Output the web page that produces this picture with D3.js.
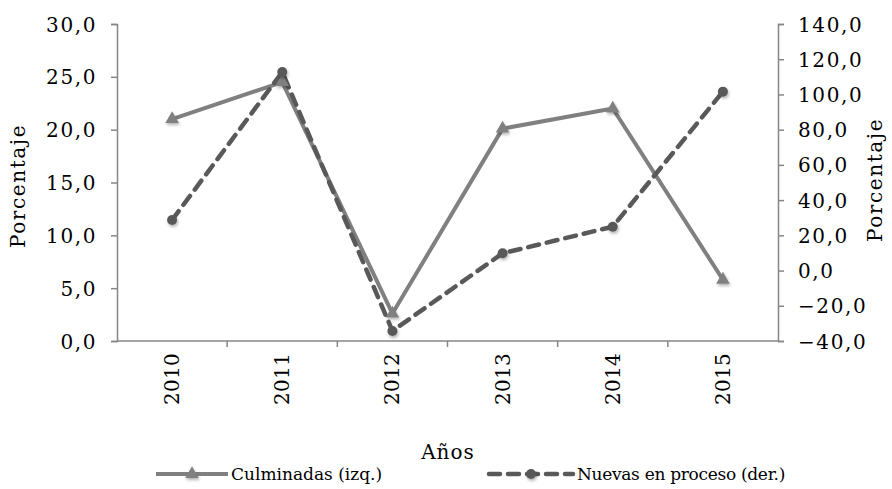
<!DOCTYPE html>
<html><head><meta charset="utf-8">
<script src="https://cdn.jsdelivr.net/npm/d3@7"></script>
<style>
body{margin:0;background:#fff;}
text{font-family:"DejaVu Serif",serif;fill:#000;}
</style></head>
<body>
<svg id="c" width="892" height="489"></svg>
<script>
const years = ["2010","2011","2012","2013","2014","2015"];
const culminadas = [21.0, 24.5, 2.6, 20.1, 22.0, 5.8];
const nuevas = [28.7, 112.7, -34.3, 9.8, 24.9, 101.6];
const leftTicks = [0,5,10,15,20,25,30];
const rightTicks = [-40,-20,0,20,40,60,80,100,120,140];
const seriesNames = ["Culminadas (izq.)", "Nuevas en proceso (der.)"];

const svg = d3.select("#c");
const m = {l:117, r:778, t:24, b:341};
const x = d3.scaleBand().domain(years).range([m.l, m.r]);
const yL = d3.scaleLinear().domain([0,30]).range([m.b, m.t]);
const yR = d3.scaleLinear().domain([-40,140]).range([m.b, m.t]);
const fmt = d => d3.format(".1f")(d).replace(".", ",");
const axisColor = "#868686";

const defs = svg.append("defs");
const f = defs.append("filter").attr("id","sh").attr("x","-50%").attr("y","-50%").attr("width","200%").attr("height","200%");
f.append("feDropShadow").attr("dx",1).attr("dy",2).attr("stdDeviation",1.5).attr("flood-color","#000").attr("flood-opacity",0.3);

function styleAxis(g){
  g.select(".domain").attr("stroke",axisColor).attr("stroke-width",1.5);
  g.selectAll(".tick line").attr("stroke",axisColor).attr("stroke-width",1.5);
  g.selectAll("text").attr("fill","#000").style("font-size","20px").style("letter-spacing","1.6px").style("font-family","DejaVu Serif, serif");
}

// left axis
const gl = svg.append("g").attr("transform",`translate(${m.l},0)`)
  .call(d3.axisLeft(yL).tickValues(leftTicks).tickFormat(fmt).tickSize(6).tickSizeOuter(6).tickPadding(14));
styleAxis(gl);
gl.selectAll("text").attr("dy","0.35em");

// right axis
const gr = svg.append("g").attr("transform",`translate(${m.r},0)`)
  .call(d3.axisRight(yR).tickValues(rightTicks).tickFormat(fmt).tickSize(6).tickSizeOuter(6).tickPadding(14));
styleAxis(gr);
gr.selectAll("text").attr("dy","0.35em");

// bottom axis
const xTickPos = years.slice(1).map(d => x(d));
const gb = svg.append("g").attr("transform",`translate(0,${m.b})`);
gb.append("line").attr("x1",m.l).attr("x2",m.r).attr("stroke",axisColor).attr("stroke-width",1.5);
gb.selectAll("line.t").data(xTickPos).enter().append("line").attr("class","t")
  .attr("x1",d=>d).attr("x2",d=>d).attr("y1",0).attr("y2",6).attr("stroke",axisColor).attr("stroke-width",1.5);
gb.selectAll("text").data(years).enter().append("text")
  .attr("transform",d=>`translate(${x(d)+x.bandwidth()/2+7},12) rotate(-90)`)
  .attr("text-anchor","end")
  .style("font-size","20px").style("letter-spacing","0.3px")
  .text(d=>d);

// axis titles
svg.append("text").attr("transform","translate(25,186) rotate(-90)").attr("text-anchor","middle")
  .style("font-size","20px").style("letter-spacing","1.6px").text("Porcentaje");
svg.append("text").attr("transform","translate(882,180) rotate(-90)").attr("text-anchor","middle")
  .style("font-size","20px").style("letter-spacing","1.6px").text("Porcentaje");
svg.append("text").attr("x",448).attr("y",459).attr("text-anchor","middle")
  .style("font-size","20px").style("letter-spacing","1px").text("Años");

const cx = d => x(d) + x.bandwidth()/2;
const c1 = "#808080", c2 = "#595959";

// Culminadas line
const l1 = d3.line().x((d,i)=>cx(years[i])).y(d=>yL(d));
svg.append("path").datum(culminadas).attr("d",l1).attr("fill","none").attr("stroke",c1).attr("stroke-width",4).attr("stroke-linejoin","round");
// Nuevas line
const l2 = d3.line().x((d,i)=>cx(years[i])).y(d=>yR(d));
svg.append("path").datum(nuevas).attr("d",l2).attr("fill","none").attr("stroke",c2).attr("stroke-width",4.5)
  .attr("stroke-dasharray","11,8").attr("stroke-linecap","round").attr("stroke-linejoin","round");

const tri = d3.symbol().type(d3.symbolTriangle).size(80);
svg.selectAll("path.m1").data(culminadas).enter().append("path").attr("class","m1")
  .attr("d",tri).attr("transform",(d,i)=>`translate(${cx(years[i])},${yL(d)})`)
  .attr("fill",c1).attr("filter","url(#sh)");
svg.selectAll("circle.m2").data(nuevas).enter().append("circle").attr("class","m2")
  .attr("cx",(d,i)=>cx(years[i])).attr("cy",d=>yR(d)).attr("r",5)
  .attr("fill",c2).attr("filter","url(#sh)");

// legend
const lg = svg.append("g");
const ly = 474;
lg.append("line").attr("x1",156).attr("x2",228).attr("y1",ly).attr("y2",ly).attr("stroke",c1).attr("stroke-width",4);
lg.append("path").attr("d",tri).attr("transform",`translate(192,${ly})`).attr("fill",c1).attr("filter","url(#sh)");
lg.append("text").attr("x",231).attr("y",ly+6).style("font-size","17px").text(seriesNames[0]);
lg.append("line").attr("x1",489).attr("x2",573).attr("y1",ly).attr("y2",ly).attr("stroke",c2).attr("stroke-width",4.5)
  .attr("stroke-dasharray","11,8").attr("stroke-linecap","round");
lg.append("circle").attr("cx",531).attr("cy",ly).attr("r",5).attr("fill",c2).attr("filter","url(#sh)");
lg.append("text").attr("x",577).attr("y",ly+6).style("font-size","17px").style("letter-spacing","-0.3px").text(seriesNames[1]);
</script>
</body></html>
